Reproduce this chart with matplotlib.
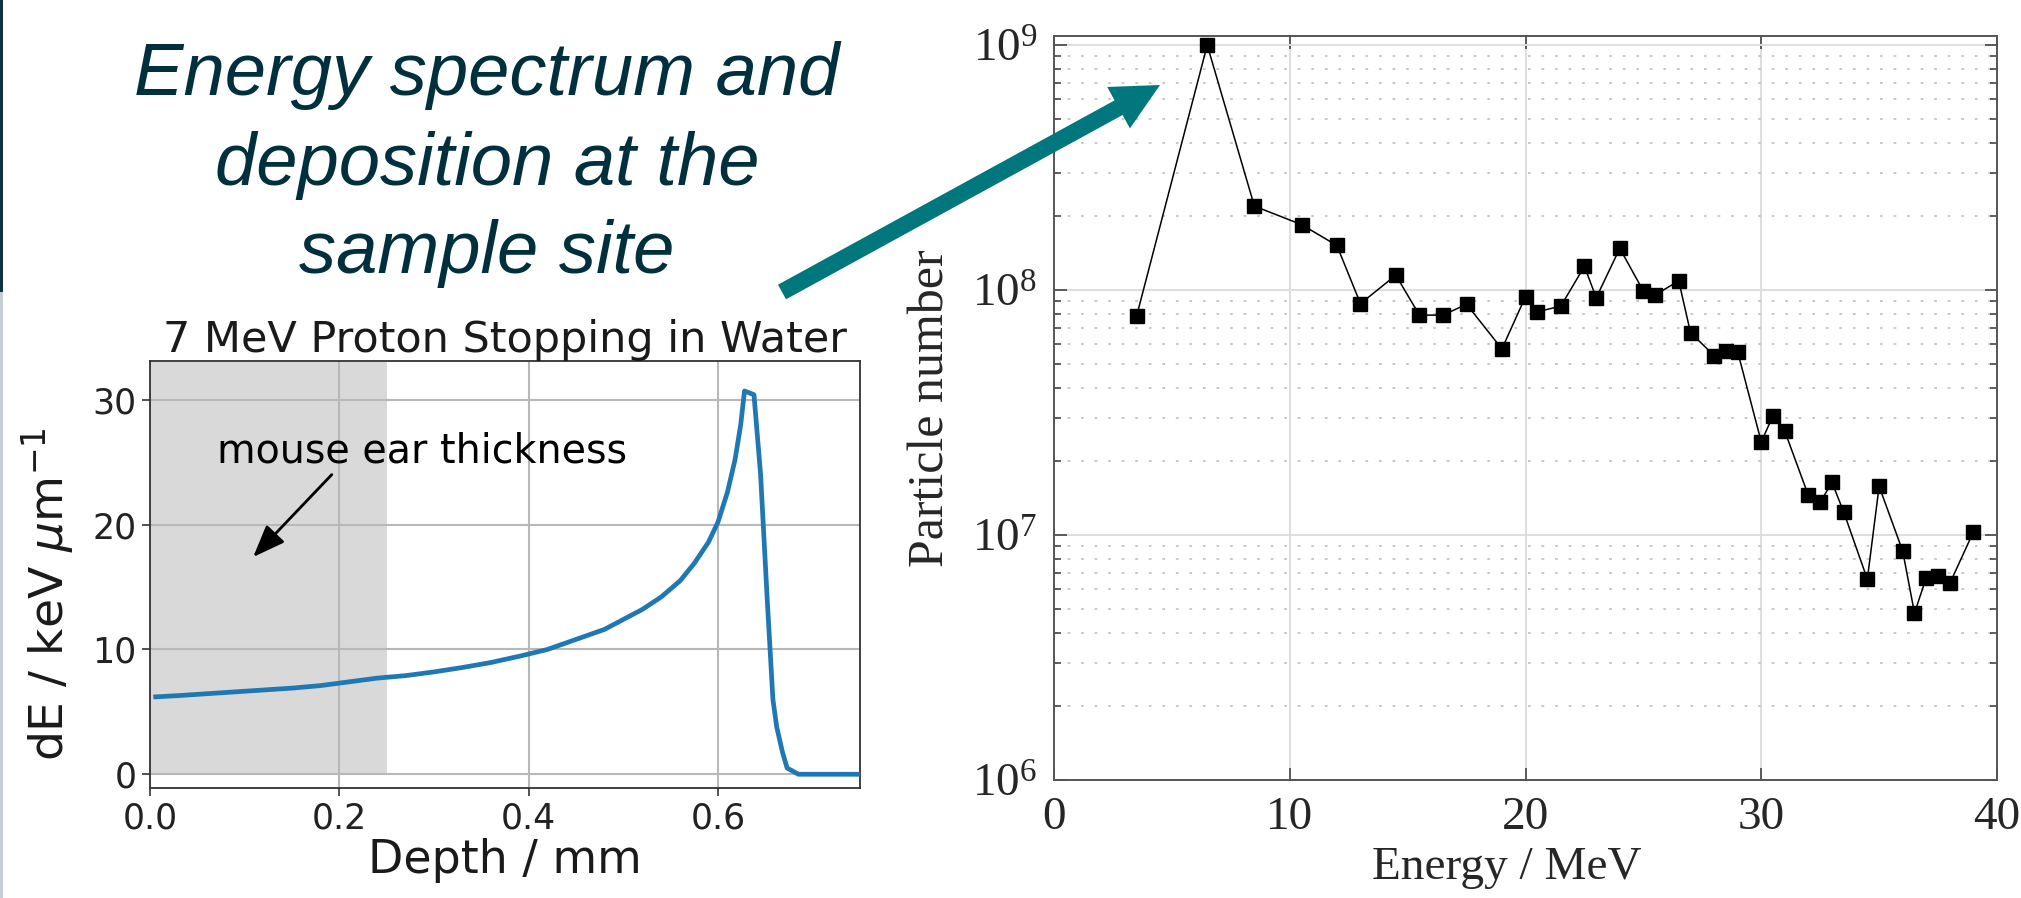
import matplotlib
matplotlib.use("Agg")
import matplotlib.pyplot as plt
from matplotlib.patches import FancyArrowPatch, Rectangle
from matplotlib.ticker import FixedLocator, LogLocator, NullFormatter

# --- left panel: 7 MeV proton Bragg curve in water ---
depth_mm = [0.006, 0.03, 0.06, 0.09, 0.12, 0.15, 0.18, 0.21, 0.24, 0.27, 0.30,
            0.33, 0.36, 0.39, 0.42, 0.45, 0.48, 0.50, 0.52, 0.54, 0.56, 0.575,
            0.59, 0.60, 0.61, 0.618, 0.624, 0.628, 0.638, 0.645, 0.652, 0.658,
            0.662, 0.668, 0.673, 0.685, 0.75]
dedx_kev_um = [6.2, 6.3, 6.45, 6.6, 6.75, 6.9, 7.1, 7.4, 7.7, 7.9, 8.2,
               8.55, 8.95, 9.45, 10.0, 10.8, 11.6, 12.4, 13.2, 14.2, 15.5, 16.9,
               18.6, 20.2, 22.6, 25.2, 28.0, 30.7, 30.4, 24.0, 14.0, 6.0,
               3.8, 1.8, 0.5, 0.0, 0.0]
depth_ticks = [0.0, 0.2, 0.4, 0.6]
dedx_ticks = [0, 10, 20, 30]
ear_thickness_mm = 0.25

# --- right panel: particle energy spectrum at the sample site ---
energy_mev = [3.5, 6.5, 8.5, 10.5, 12.0, 13.0, 14.5, 15.5, 16.5, 17.5, 19.0, 20.0,
              20.5, 21.5, 22.5, 23.0, 24.0, 25.0, 25.5, 26.5, 27.0, 28.0, 28.5, 29.0,
              30.0, 30.5, 31.0, 32.0, 32.5, 33.0, 33.5, 34.5, 35.0, 36.0, 36.5, 37.0,
              37.5, 38.0, 39.0]
particle_number = [7.8e7, 1.0e9, 2.2e8, 1.85e8, 1.52e8, 8.8e7, 1.15e8, 7.9e7, 7.9e7,
                   8.75e7, 5.75e7, 9.4e7, 8.15e7, 8.6e7, 1.25e8, 9.3e7, 1.48e8, 9.9e7,
                   9.55e7, 1.09e8, 6.7e7, 5.4e7, 5.65e7, 5.6e7, 2.4e7, 3.07e7, 2.65e7,
                   1.45e7, 1.36e7, 1.64e7, 1.24e7, 6.6e6, 1.58e7, 8.6e6, 4.8e6, 6.7e6,
                   6.8e6, 6.35e6, 1.03e7]
energy_ticks = [0, 10, 20, 30, 40]
count_ticks = [1e6, 1e7, 1e8, 1e9]
count_ticklabels = ["$10^{6}$", "$10^{7}$", "$10^{8}$", "$10^{9}$"]

plt.rcParams["mathtext.fontset"] = "custom"
plt.rcParams["mathtext.rm"] = "Liberation Serif"
plt.rcParams["mathtext.it"] = "Liberation Serif:italic"

W, H = 2021, 898
fig = plt.figure(figsize=(W / 100, H / 100), dpi=100)
fig.patch.set_facecolor("white")

TEXT_DARK = "#00303d"
TEAL = "#00777c"

# slide edge strips
fig.add_artist(Rectangle((0, 1 - 292 / H), 3 / W, 292 / H, transform=fig.transFigure,
                         color="#0d3340", lw=0))
fig.add_artist(Rectangle((0, 0), 3 / W, 1 - 292 / H, transform=fig.transFigure,
                         color="#c3cfd6", lw=0))

# caption
caption = ["Energy spectrum and", "deposition at the", "sample site"]
for line, ybase in zip(caption, [95, 185, 273]):
    fig.text(487 / W, 1 - ybase / H, line, ha="center", va="baseline",
             fontsize=53.5, style="italic", color=TEXT_DARK,
             family=["Liberation Sans", "DejaVu Sans"])

# ---------------- left axes ----------------
axl = fig.add_axes([150 / W, 1 - 788 / H, 710 / W, 427 / H])
axl.fill_between([0, ear_thickness_mm], 0, 40, color="#d9d9d9", lw=0, zorder=0)
axl.plot(depth_mm, dedx_kev_um, color="#1f77b4", lw=3.4, zorder=3,
         solid_joinstyle="round")
axl.set_xlim(0, 0.75)
axl.set_ylim(-1.1, 33.1)
axl.xaxis.set_major_locator(FixedLocator(depth_ticks))
axl.yaxis.set_major_locator(FixedLocator(dedx_ticks))
axl.set_xticklabels([f"{t:.1f}" for t in depth_ticks])
axl.grid(True, color="#b8b8b8", lw=1.5, zorder=1)
axl.set_axisbelow(True)
axl.tick_params(labelsize=25, colors="#333333", labelcolor="#222222",
                length=6, width=1.2)
for s in axl.spines.values():
    s.set_color("#333333")
    s.set_linewidth(1.3)
axl.set_title("7 MeV Proton Stopping in Water", fontsize=31, color="#1a1a1a", pad=6)
axl.set_xlabel("Depth / mm", fontsize=33, color="#1a1a1a", labelpad=2)
axl.set_ylabel(r"dE / keV $\mu$m$^{-1}$", fontsize=34, color="#1a1a1a",
               math_fontfamily="dejavusans")
axl.yaxis.set_label_coords(-0.103, 0.454)
axl.annotate("", xy=(0.109, 17.4), xytext=(0.192, 24.0),
             arrowprops=dict(arrowstyle="-|>,head_length=0.9,head_width=0.35",
                             color="black", lw=2, mutation_scale=22,
                             shrinkA=0, shrinkB=0))
axl.text(0.287, 25.0, "mouse ear thickness", ha="center", va="baseline",
         fontsize=28.5, color="black")

# ---------------- right axes ----------------
axr = fig.add_axes([1054 / W, 1 - 780 / H, 943 / W, 744 / H])
axr.set_yscale("log")
axr.plot(energy_mev, particle_number, color="black", lw=1.1, marker="s",
         markersize=10.5, markerfacecolor="black", markeredgecolor="black", zorder=4)
axr.set_xlim(0, 40)
axr.set_ylim(1e6, 10 ** 9.037)
axr.xaxis.set_major_locator(FixedLocator(energy_ticks))
axr.yaxis.set_major_locator(FixedLocator(count_ticks))
axr.set_yticklabels(count_ticklabels)
axr.yaxis.set_minor_locator(LogLocator(base=10, subs=range(2, 10)))
axr.yaxis.set_minor_formatter(NullFormatter())
axr.grid(True, which="major", color="#dedede", lw=1.4, zorder=0)
axr.grid(True, which="minor", axis="y", color="#c4c4c4", lw=1.3,
         linestyle=(0, (1.5, 6)), zorder=0)
axr.set_axisbelow(True)
axr.tick_params(which="both", direction="in", top=True, right=True,
                colors="#444444", width=1.2, labelcolor="#262626",
                labelsize=34, labelfontfamily="Liberation Serif")
axr.tick_params(which="major", length=9, pad=12)
axr.tick_params(which="minor", length=5)
for s in axr.spines.values():
    s.set_color("#555555")
    s.set_linewidth(1.4)
axr.set_xlabel("Energy / MeV", fontsize=34, family="Liberation Serif",
               color="#262626", labelpad=6)
axr.xaxis.set_label_coords(0.48, -0.09)
axr.set_ylabel("Particle number", fontsize=36, family="Liberation Serif",
               color="#262626")
axr.yaxis.set_label_coords(-0.105, 0.5)

# teal pointer from caption to spectrum peak
fig.add_artist(FancyArrowPatch((782 / W, 1 - 292 / H), (1160 / W, 1 - 85 / H),
                               transform=fig.transFigure,
                               arrowstyle="simple,head_length=3.4,head_width=3.4,tail_width=1.2",
                               mutation_scale=10, color=TEAL, lw=0,
                               shrinkA=0, shrinkB=0, zorder=10))

fig.savefig("out.png", dpi=100)
